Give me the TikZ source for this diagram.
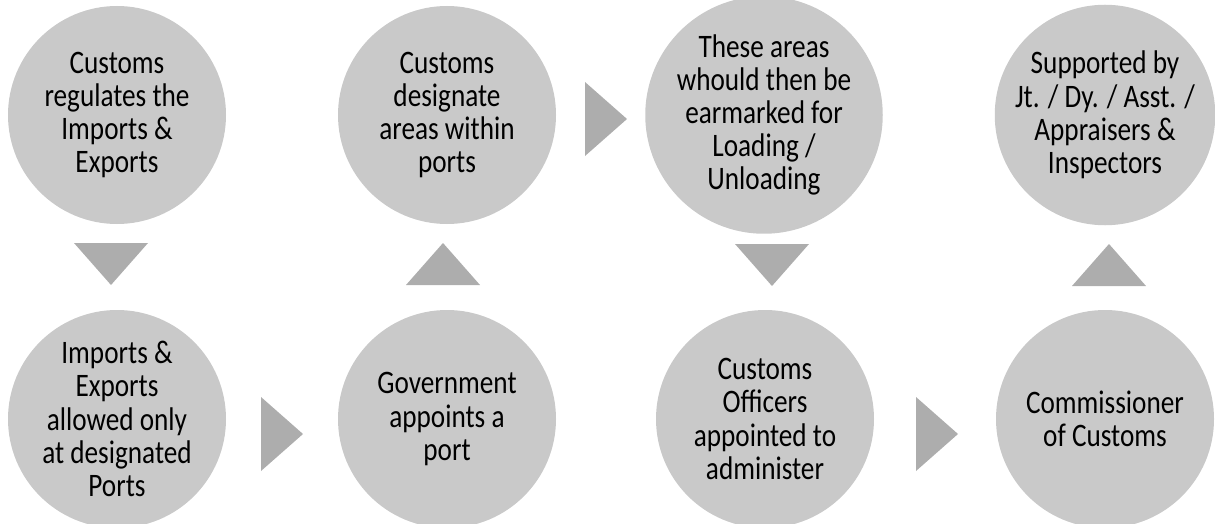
\documentclass[tikz,border=0pt]{standalone}
\usepackage{fontspec}
\setmainfont{Carlito}[FakeStretch=0.83]
\usetikzlibrary{shapes.geometric}
\definecolor{discgray}{RGB}{201,201,201}
\definecolor{pointgray}{RGB}{173,173,173}

\begin{document}
\begin{tikzpicture}
        [x=0.5pt,y=-0.5pt,
        stage/.style={circle,fill=discgray,minimum size=109pt,inner sep=0pt,align=center,
          font=\fontsize{16.4}{16.6}\selectfont},
        pointer/.style={isosceles triangle,isosceles triangle stretches,fill=pointgray,
          minimum width=37pt,minimum height=21pt,inner sep=0pt,outer sep=0pt,anchor=apex}]
        \useasboundingbox (0,0) rectangle (1215,524);
        % top row
        \node[stage] (regulate) at (117,115) {Customs\\regulates the\\Imports \&\\Exports};
        \node[stage] (designate) at (447,115) {Customs\\designate\\areas within\\ports};
        \node[stage] (earmark) at (764,115) {These areas\\whould then be\\earmarked for\\Loading /\\Unloading};
        \node[stage] (support) at (1105,115) {Supported by\\Jt. / Dy. / Asst. /\\Appraisers \&\\Inspectors};
        % bottom row
        \node[stage] (allowed) at (117,419) {Imports \&\\Exports\\allowed only\\at designated\\Ports};
        \node[stage] (appoint) at (447,419) {Government\\appoints a\\port};
        \node[stage] (officers) at (765,419) {Customs\\Officers\\appointed to\\administer};
        \node[stage] (commissioner) at (1105,419) {Commissioner\\of Customs};
        % pointers between the stages
        \node[pointer,rotate=-90] (regulate-allowed) at (111,285) {};
        \node[pointer] (allowed-appoint) at (303,434) {};
        \node[pointer,rotate=90] (appoint-designate) at (443,243) {};
        \node[pointer] (designate-earmark) at (627,119) {};
        \node[pointer,rotate=-90] (earmark-officers) at (772,286) {};
        \node[pointer] (officers-commissioner) at (958,434) {};
        \node[pointer,rotate=90] (commissioner-support) at (1109,244) {};
\end{tikzpicture}
\end{document}
